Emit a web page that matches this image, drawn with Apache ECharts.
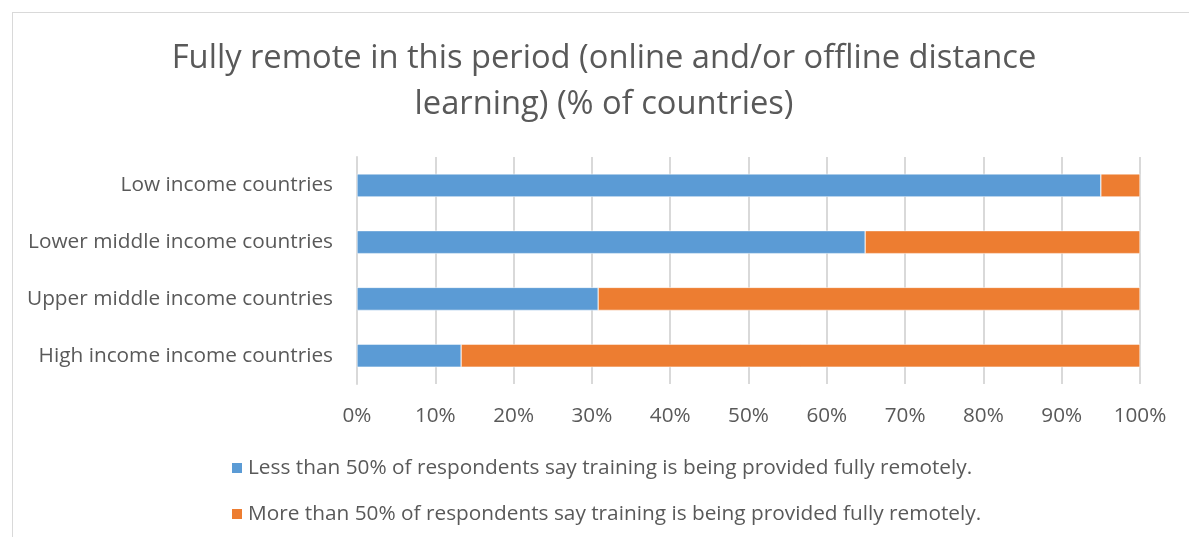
<!DOCTYPE html>
<html lang="en">
<head>
    <meta charset="UTF-8">
    <title>Fully remote in this period</title>
    <style>
        * { margin: 0; padding: 0; box-sizing: border-box; }
        body { width: 1189px; height: 537px; background: #fff; overflow: hidden; position: relative; }
        .frame {
            position: absolute; left: 12px; top: 12px;
            width: 1300px; height: 700px;
            border: 1px solid #d9d9d9;
        }
        #chart { position: absolute; left: 0; top: 0; width: 1189px; height: 537px; }
    </style>
</head>
<body>
    <div class="frame"></div>
    <div id="chart"></div>

    <script src="https://cdn.jsdelivr.net/npm/echarts@6/dist/echarts.min.js"></script>
    <script>
        const categories = [
            'Low income countries',
            'Lower middle income countries',
            'Upper middle income countries',
            'High income income countries'
        ];
        const lessThanHalf = [95.0, 64.9, 30.8, 13.3];
        const moreThanHalf = [5.0, 35.1, 69.2, 86.7];
        const seriesNames = [
            'Less than 50% of respondents say training is being provided fully remotely.',
            'More than 50% of respondents say training is being provided fully remotely.'
        ];

        const font = "'Open Sans', 'Noto Sans', sans-serif";
        const textColor = '#595959';
        const chart = echarts.init(document.getElementById('chart'));

        chart.setOption({
            animation: false,
            title: {
                text: 'Fully remote in this period (online and/or offline distance\nlearning) (% of countries)',
                left: 604,
                top: 36,
                padding: 0,
                textAlign: 'center',
                textStyle: {
                    fontFamily: font, fontSize: 32.7, fontWeight: 'normal',
                    color: textColor, lineHeight: 46
                }
            },
            grid: { left: 357, right: 49, top: 157, bottom: 153 },
            legend: {
                orient: 'vertical',
                left: 230, top: 456, padding: 0,
                itemWidth: 12, itemHeight: 12, itemGap: 22,
                icon: 'rect',
                textStyle: { fontFamily: font, fontSize: 20.8, color: textColor, lineHeight: 24 },
                data: seriesNames
            },
            xAxis: {
                type: 'value', min: 0, max: 100, interval: 10,
                axisLabel: {
                    formatter: '{value}%', fontFamily: font, fontSize: 20.7,
                    color: textColor, margin: 22
                },
                splitLine: { lineStyle: { color: '#d9d9d9', width: 2 } },
                axisLine: { show: false }, axisTick: { show: false }
            },
            yAxis: {
                type: 'category', data: categories, inverse: true,
                axisLabel: { fontFamily: font, fontSize: 20.8, color: textColor, margin: 24 },
                axisLine: { lineStyle: { color: '#d9d9d9', width: 2 } },
                axisTick: { show: false }
            },
            series: [
                {
                    name: seriesNames[0], type: 'bar', stack: 'total', data: lessThanHalf,
                    barWidth: 23,
                    itemStyle: { color: '#5b9bd5', borderColor: '#ffffff', borderWidth: 0.5 }
                },
                {
                    name: seriesNames[1], type: 'bar', stack: 'total', data: moreThanHalf,
                    barWidth: 23,
                    itemStyle: { color: '#ed7d31', borderColor: '#ffffff', borderWidth: 0.5 }
                }
            ]
        });
    </script>
</body>
</html>
